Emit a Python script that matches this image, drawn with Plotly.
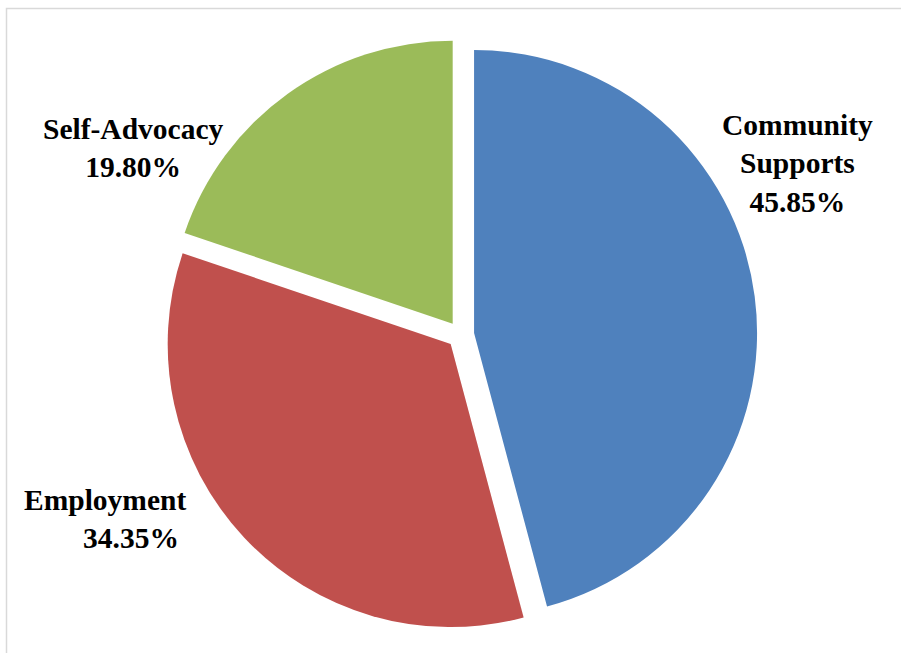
import plotly.graph_objects as go

labels = ["Community Supports", "Employment", "Self-Advocacy"]
values = [45.85, 34.35, 19.80]
colors = ["#4F81BD", "#C0504D", "#9BBB59"]
label_texts = ["<b>Community<br>Supports<br>45.85%</b>",
               "<b>Employment<br>" + "&nbsp;" * 8 + "34.35%</b>",
               "<b>Self-Advocacy<br>19.80%</b>"]

W, H = 901, 653
cx, cy, r, pull = 460.6, 334.8, 283.0, 0.048
R = r * (1 + pull)

fig = go.Figure(go.Pie(
    labels=labels, values=values, sort=False, direction="clockwise", rotation=0,
    marker=dict(colors=colors, line=dict(width=0)),
    pull=[pull] * 3, textinfo="none", hoverinfo="label+percent", showlegend=False,
    domain=dict(x=[(cx - R) / W, (cx + R) / W], y=[(H - cy - R) / H, (H - cy + R) / H]),
))

# label anchors in pixels: (x, y, xanchor, align)
pos = [(797, 163, "center", "center"), (22, 519, "left", "left"), (133, 148, "center", "center")]
for t, (px, py, xa, al) in zip(label_texts, pos):
    fig.add_annotation(x=px / W, y=1 - py / H, xref="paper", yref="paper", text=t,
                       showarrow=False, xanchor=xa, yanchor="middle", align=al,
                       font=dict(family="Liberation Serif", size=29.5, color="#000000"))

fig.add_shape(type="rect", xref="paper", yref="paper", x0=6.5 / W, x1=1.05, y0=-0.05, y1=1 - 8.5 / H,
              line=dict(color="#D9D9D9", width=1.5), fillcolor="rgba(0,0,0,0)")

fig.update_layout(width=W, height=H, margin=dict(l=0, r=0, t=0, b=0),
                  paper_bgcolor="white", plot_bgcolor="white",
                  font=dict(family="Liberation Serif"))
fig.write_html("out.html", config={"displayModeBar": False},
               post_script="document.body.style.margin='0';document.body.style.overflow='hidden';")
